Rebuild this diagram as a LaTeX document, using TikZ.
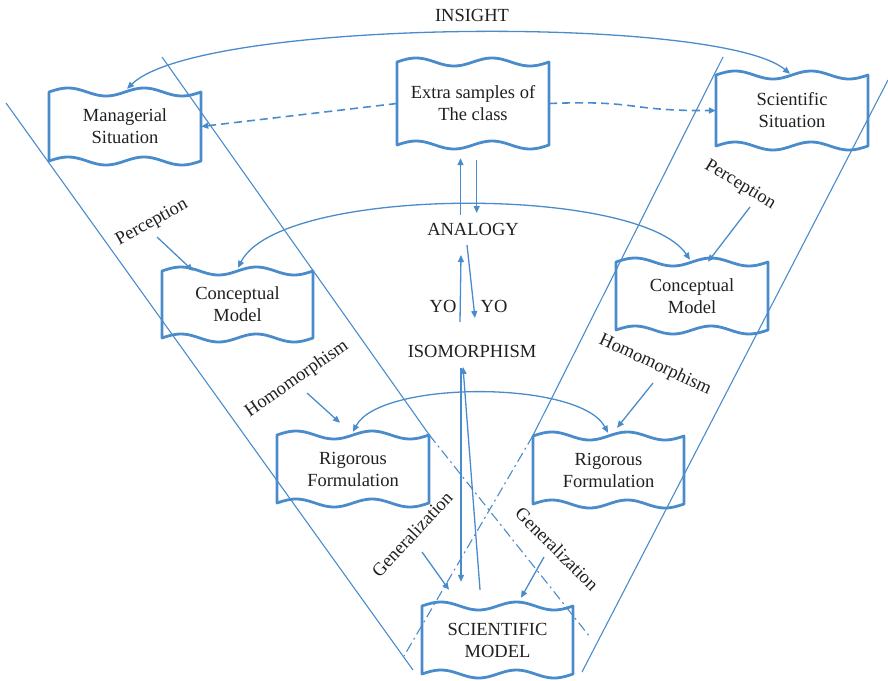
\documentclass[tikz,border=0pt]{standalone}
\usepackage{fontspec}
\setmainfont{Liberation Serif}
\usetikzlibrary{arrows.meta}
\definecolor{wline}{HTML}{4A8CCB}
\definecolor{ink}{HTML}{231F20}
\tikzset{
  tip/.tip={Triangle[length=7pt,width=6pt]},
  boxline/.style={draw=wline, line width=2.8pt, line join=round},
  boxtext/.style={text=ink, align=center, inner sep=0pt},
  lbl/.style={text=ink, inner sep=1pt},
  link/.style={draw=wline, line width=1.3pt, -tip},
  twoway/.style={draw=wline, line width=1.3pt, tip-tip},
  guide/.style={draw=wline, line width=1.1pt},
  guidedd/.style={draw=wline, line width=1.1pt, dash pattern=on 10pt off 4pt on 2pt off 4pt},
  dashlink/.style={draw=wline, line width=1.6pt, dash pattern=on 8pt off 5pt, -tip},
}
% a box whose top and bottom edges are double waves
\newcommand\wavyBox[6]{%
  \node[boxtext, minimum width=#4pt, minimum height=#5pt] (#1) at (#2,#3) {#6};
  \draw[boxline]
    plot[variable=\t, domain=0:1, samples=49, smooth] ({#2-#4/2+#4*\t},{#3-#5/2-4*sin(720*\t)})
    -- plot[variable=\t, domain=1:0, samples=49, smooth] ({#2-#4/2+#4*\t},{#3+#5/2-4*sin(720*\t)})
    -- cycle;
}
\begin{document}
\begin{tikzpicture}[x=1pt, y=-1pt, font=\fontsize{18.5}{22}\selectfont]
\useasboundingbox (0,0) rectangle (888,680);

% outer guide lines of the two bands
\coordinate (l1a) at (6,103);   \coordinate (l1b) at (413,670);
\coordinate (l2a) at (162,57);
\coordinate (dla) at (590,637);
\coordinate (r1a) at (723,57);
\coordinate (dra) at (404,656);
\coordinate (r2a) at (888,80);  \coordinate (r2b) at (582,672);

% boxes
\wavyBox{msit}{125}{126.5}{152}{69}{Managerial\\Situation}
\wavyBox{extra}{473}{103.5}{152}{83}{Extra samples of\\The class}
\wavyBox{ssit}{792}{110.5}{152}{71}{Scientific\\Situation}
\wavyBox{cml}{237.5}{304.5}{151}{67}{Conceptual\\Model}
\wavyBox{cmr}{692}{296}{152}{68}{Conceptual\\Model}
\wavyBox{rfl}{353}{469}{152}{68}{Rigorous\\Formulation}
\wavyBox{rfr}{608.5}{470}{151}{68}{Rigorous\\Formulation}
\wavyBox{smod}{497.5}{640}{151}{68}{SCIENTIFIC\\MODEL}

% band lines
\draw[guide] (l1a) -- (l1b);
\draw[guide] (l2a) -- (rfl.north east);
\draw[guidedd] (rfl.north east) -- (dla);
\draw[guide] (r1a) -- (rfr.north west);
\draw[guidedd] (rfr.north west) -- (dra);
\draw[guide] (r2a) -- (r2b);

% central labels
\node[lbl] (insight) at (472,15) {INSIGHT};
\node[lbl] (analogy) at (473,229) {ANALOGY};
\node[lbl] (iso) at (472,351) {ISOMORPHISM};
\node[lbl] (yol) at (443,306) {YO};
\node[lbl] (yor) at (494,306) {YO};

% side labels
\node[lbl, rotate=29] (percl) at (152,223) {Perception};
\node[lbl, rotate=-31] (percr) at (740,185) {Perception};
\node[lbl, rotate=35] (homl) at (297,379) {Homomorphism};
\node[lbl, rotate=-25] (homr) at (655,365) {Homomorphism};
\node[lbl, rotate=47] (genl) at (412,534) {Generalization};
\node[lbl, rotate=-45] (genr) at (557,549) {Generalization};

% arcs
\draw[twoway] ([shift={(2,-3)}]msit.north) .. controls (200,18) and (720,15) .. ([shift={(-2,-1)}]ssit.north);
\draw[twoway] ([shift={(0.5,-3)}]cml.north) .. controls (280,185) and (640,185) .. ([shift={(-2,-2)}]cmr.north);
\draw[twoway] ([shift={(0,-3)}]rfl.north) .. controls (380,380) and (580,380) .. ([shift={(-0.5,-3)}]rfr.north);

% dashed links
\draw[dashlink] (extra.west) -- (msit.east);
\draw[dashlink] (extra.east) .. controls (640,100) and (625,111) .. (ssit.west);

% central arrows
\draw[link] ([shift={(-12.5,-14)}]analogy.center) -- ([shift={(-12.5,13)}]extra.south);
\draw[link] ([shift={(3.7,15)}]extra.south) -- ([shift={(3.7,-16)}]analogy.center);
\draw[link] ([shift={(-12,-29)}]iso.center) -- ([shift={(-12,26)}]analogy.center);
\draw[link] ([shift={(-6,16)}]analogy.center) -- ([shift={(3,-33)}]iso.center);
\draw[link] ([shift={(-17.5,-16)}]smod.north) -- ([shift={(-9,16)}]iso.center);
\draw[link] ([shift={(-11,17)}]iso.center) -- ([shift={(-36.5,-24)}]smod.north);

% label arrows
\coordinate (pl) at (157,237);
\coordinate (pr) at (750,207);
\coordinate (hl) at (307,393);
\coordinate (hr) at (653,383);
\coordinate (gl) at (422,552);
\coordinate (gr) at (544,557);
\draw[link] (pl) -- ([shift={(-44.5,0)}]cml.north);
\draw[link] (pr) -- ([shift={(16,0)}]cmr.north);
\draw[link] (hl) -- ([shift={(-13,-12)}]rfl.north);
\draw[link] (hr) -- ([shift={(8.5,-8)}]rfr.north);
\draw[link] (gl) -- ([shift={(-48.5,-16)}]smod.north);
\draw[link] (gr) -- ([shift={(23.5,-8)}]smod.north);
\end{tikzpicture}
\end{document}
